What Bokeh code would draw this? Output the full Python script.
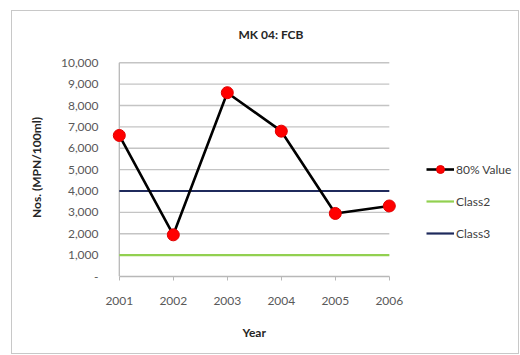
from bokeh.plotting import figure
from bokeh.models import Range1d, FixedTicker, NumeralTickFormatter, Legend, Title
from bokeh.embed import file_html
from bokeh.resources import INLINE

# ---- data ----
years = [2001, 2002, 2003, 2004, 2005, 2006]
value_80 = [6600, 1950, 8600, 6800, 2950, 3300]
class2 = [1000, 1000, 1000, 1000, 1000, 1000]
class3 = [4000, 4000, 4000, 4000, 4000, 4000]
y_ticks = [0, 1000, 2000, 3000, 4000, 5000, 6000, 7000, 8000, 9000, 10000]
series_names = ["80% Value", "Class2", "Class3"]
chart_title = "MK 04: FCB"
x_title = "Year"
y_title = "Nos. (MPN/100ml)"

FONT = "Lato"
GRID = "#c4c4c4"

p = figure(width=508, height=344,
           x_range=Range1d(2000.8, 2008.3), y_range=Range1d(0, 10200),
           output_backend="svg", toolbar_location=None,
           min_border_left=96, min_border_right=7,
           min_border_top=46, min_border_bottom=79)
p.margin = (10, 0, 0, 11)
p.outline_line_color = None
p.xgrid.visible = False
p.ygrid.visible = False
p.styles = {"border": "1px solid #c8c8c8"}

# title
p.title.text = chart_title
p.title.align = "left"
p.title.vertical_align = "top"
p.title.offset = 130
p.title.text_font = FONT
p.title.text_font_size = "12px"
p.title.text_font_style = "bold"
p.title.text_color = "#262626"
p.title.standoff = 30

# gridlines (horizontal) spanning the categories
p.segment(x0=years[0], x1=years[-1], y0=y_ticks[1:], y1=y_ticks[1:],
          line_color=GRID, line_width=1.3)
# vertical axis line at first category
p.segment(x0=years[0], x1=years[0], y0=y_ticks[0], y1=y_ticks[-1],
          line_color="#b8b8b8", line_width=1.3)

# series
r_c2 = p.line(years, class2, line_color="#92d050", line_width=2.2)
r_c3 = p.line(years, class3, line_color="#1f2a5c", line_width=2.2)
r_l = p.line(years, value_80, line_color="#000000", line_width=2.6)
r_s = p.scatter(years, value_80, size=12, fill_color="#ff0000", line_color="#e00000")

# axes
for ax in (p.xaxis[0], p.yaxis[0]):
    ax.minor_tick_line_color = None
    ax.major_label_text_font = FONT
    ax.major_label_text_font_size = "12px"
    ax.major_label_text_color = "#595959"
    ax.axis_label_text_font = FONT
    ax.axis_label_text_font_size = "12px"
    ax.axis_label_text_font_style = "bold"
    ax.axis_label_text_color = "#262626"

xa = p.xaxis[0]
xa.axis_line_color = "#b8b8b8"
xa.axis_line_width = 1.3
xa.major_tick_line_color = "#b8b8b8"
xa.major_tick_in = 0
xa.major_tick_out = 4
xa.bounds = (years[0], years[-1])
xa.ticker = FixedTicker(ticks=years)
xa.major_label_overrides = {y: str(y) for y in years}
xa.major_label_standoff = 16

ya = p.yaxis[0]
ya.axis_line_color = None
ya.major_tick_line_color = None
ya.major_tick_in = 0
ya.major_tick_out = 0
ya.ticker = FixedTicker(ticks=y_ticks)
ya.formatter = NumeralTickFormatter(format="0,0")
ya.major_label_overrides = {0: "-"}
ya.major_label_standoff = 10
ya.axis_label = y_title
ya.axis_label_standoff = 14

# x axis title, centred under the category span
xt = Title(text=x_title, align="left", offset=134, standoff=30,
           text_font=FONT, text_font_size="12px", text_font_style="bold",
           text_color="#262626")
p.add_layout(xt, "below")

# legend
lg = Legend(items=[(series_names[0], [r_l, r_s]),
                   (series_names[1], [r_c2]),
                   (series_names[2], [r_c3])],
            location=(318, 33))
lg.background_fill_alpha = 0
lg.border_line_color = None
lg.padding = 0
lg.margin = 0
lg.glyph_width = 28
lg.glyph_height = 20
lg.label_height = 20
lg.spacing = 12
lg.label_standoff = 2
lg.label_text_font = FONT
lg.label_text_font_size = "12px"
lg.label_text_color = "#404040"
p.add_layout(lg, "center")

open("out.html", "w").write(file_html(p, INLINE))
